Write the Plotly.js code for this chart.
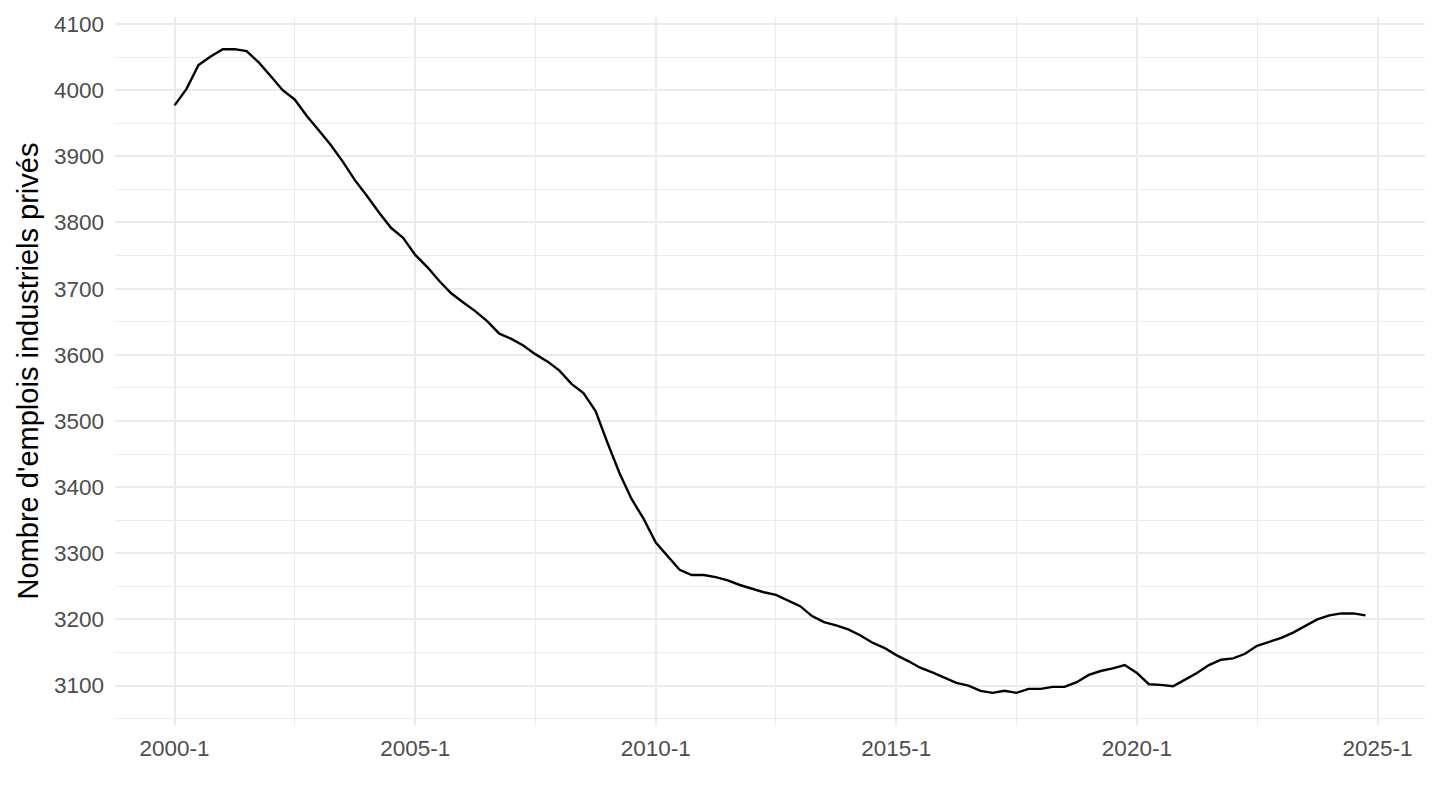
<!DOCTYPE html>
<html>
<head>
<meta charset="utf-8">
<script src="https://cdn.plot.ly/plotly-3.0.1.min.js"></script>
<style>
  html, body { margin: 0; padding: 0; background: #ffffff; }
  #chart { width: 1440px; height: 810px; }
</style>
</head>
<body>
<div id="chart"></div>
<script>
// Quarterly series 2000-Q1 .. 2024-Q4 (thousands of private industrial jobs)
const startYear = 2000;
const endYear = 2024;

const emplois = [
  3977, 4002, 4038, 4051, 4062, 4062, 4059, 4042, 4021, 4000,
  3986, 3961, 3939, 3917, 3892, 3864, 3840, 3815, 3792, 3777,
  3751, 3733, 3712, 3693, 3679, 3666, 3651, 3632, 3624, 3614,
  3601, 3590, 3576, 3556, 3542, 3515, 3466, 3421, 3382, 3352,
  3316, 3295, 3275, 3267, 3267, 3264, 3259, 3252, 3246, 3241,
  3237, 3229, 3220, 3205, 3196, 3191, 3185, 3176, 3165, 3157,
  3146, 3137, 3127, 3120, 3112, 3104, 3100, 3092, 3089, 3092,
  3089, 3095, 3095, 3098, 3098, 3105, 3116, 3122, 3126, 3131,
  3119, 3102, 3101, 3099, 3109, 3119, 3131, 3139, 3141, 3148,
  3160, 3166, 3172, 3180, 3190, 3200, 3206, 3209, 3209, 3206
];

const xTickVals = ["2000-01-01", "2005-01-01", "2010-01-01", "2015-01-01", "2020-01-01", "2025-01-01"];
const xTickText = ["2000-1", "2005-1", "2010-1", "2015-1", "2020-1", "2025-1"];
const xMinorVals = ["2002-07-01", "2007-07-01", "2012-07-01", "2017-07-01", "2022-07-01"];
const yTickVals = [3100, 3200, 3300, 3400, 3500, 3600, 3700, 3800, 3900, 4000, 4100];
const yMinorVals = [3050, 3150, 3250, 3350, 3450, 3550, 3650, 3750, 3850, 3950, 4050];

// Build quarter dates
const quarters = [];
for (let y = startYear; y <= endYear; y++) {
  for (const m of ["01", "04", "07", "10"]) quarters.push(y + "-" + m + "-01");
}

// ggplot-like 5% expansion
function toMs(s) { return new Date(s + "T00:00:00Z").getTime(); }
function fromMs(ms) { return new Date(ms).toISOString().slice(0, 10); }
const x0 = toMs(quarters[0]), x1 = toMs(quarters[quarters.length - 1]);
const xr = [fromMs(x0 - 0.05 * (x1 - x0)), fromMs(x1 + 0.05 * (x1 - x0))];
const ymin = Math.min(...emplois), ymax = Math.max(...emplois);
const yr = [ymin - 0.05 * (ymax - ymin), ymax + 0.05 * (ymax - ymin)];

const trace = {
  x: quarters,
  y: emplois,
  type: "scatter",
  mode: "lines",
  line: { color: "#000000", width: 2.4 },
  hoverinfo: "x+y"
};

const fontFamily = "Liberation Sans, Arial, Helvetica, sans-serif";

const layout = {
  width: 1440,
  height: 810,
  paper_bgcolor: "#ffffff",
  plot_bgcolor: "#ffffff",
  showlegend: false,
  margin: { l: 115, r: 15, t: 15, b: 85 },
  font: { family: fontFamily, color: "#4d4d4d" },
  xaxis: {
    type: "date",
    range: xr,
    tickmode: "array",
    tickvals: xTickVals,
    ticktext: xTickText,
    ticks: "",
    showline: false,
    zeroline: false,
    showgrid: true,
    gridcolor: "#ebebeb",
    gridwidth: 2,
    tickfont: { size: 22.5, color: "#4d4d4d", family: fontFamily },
    ticklabelstandoff: 7,
    minor: { tickmode: "array", tickvals: xMinorVals, showgrid: true, gridcolor: "#ebebeb", gridwidth: 1, ticks: "" }
  },
  yaxis: {
    range: yr,
    tickmode: "array",
    tickvals: yTickVals,
    ticktext: yTickVals.map(String),
    ticks: "",
    showline: false,
    zeroline: false,
    showgrid: true,
    gridcolor: "#ebebeb",
    gridwidth: 2,
    tickfont: { size: 22.5, color: "#4d4d4d", family: fontFamily },
    ticklabelstandoff: 10,
    automargin: true,
    minor: { tickmode: "array", tickvals: yMinorVals, showgrid: true, gridcolor: "#ebebeb", gridwidth: 1, ticks: "" },
    title: { text: "Nombre d'emplois industriels privés", standoff: 6, font: { size: 29, color: "#000000", family: fontFamily } }
  }
};

Plotly.newPlot("chart", [trace], layout, { displayModeBar: false, staticPlot: true });
</script>
</body>
</html>
